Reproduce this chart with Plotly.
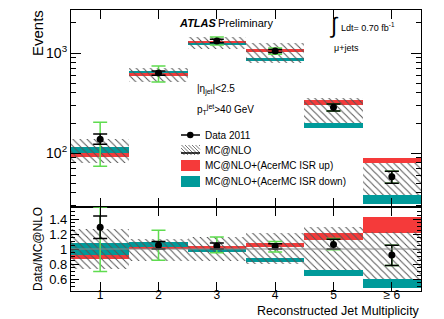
import plotly.graph_objects as go
from plotly.subplots import make_subplots

# ---------------- data ----------------
bins = [1, 2, 3, 4, 5, 6]
bin_labels = ["1", "2", "3", "4", "5", "\u2265 6"]

# top panel (Events)
data_val = [138, 631, 1318, 1047, 288, 58]
data_stat_lo = [123, 600, 1265, 1010, 263, 50]
data_stat_hi = [155, 662, 1370, 1085, 309, 66]
data_tot_lo = [74, 513, 1202, 975, 263, 50]
data_tot_hi = [204, 741, 1445, 1120, 309, 66]

mc_lo = [79, 513, 1096, 794, 200, 38]
mc_hi = [138, 708, 1445, 1259, 355, 79]
isr_up_lo = [91, 589, 1259, 1047, 302, 79]
isr_up_hi = [100, 631, 1318, 1096, 339, 89]
isr_dn_lo = [100, 631, 1202, 832, 178, 31]
isr_dn_hi = [115, 661, 1259, 891, 200, 38]

# ratio panel (Data/MC@NLO)
r_data = [1.29, 1.05, 1.04, 1.03, 1.06, 0.92]
r_stat_lo = [1.14, 1.00, 1.00, 1.00, 1.00, 0.78]
r_stat_hi = [1.44, 1.10, 1.08, 1.07, 1.13, 1.05]
r_tot_lo = [0.70, 0.85, 0.95, 0.96, 0.99, 0.78]
r_tot_hi = [1.56, 1.25, 1.16, 1.10, 1.14, 1.05]
r_mc_lo = [0.73, 0.84, 0.84, 0.80, 0.72, 0.60]
r_mc_hi = [1.27, 1.13, 1.16, 1.21, 1.30, 1.23]
r_up_lo = [0.87, 1.00, 1.00, 1.03, 1.12, 1.22]
r_up_hi = [0.92, 1.03, 1.04, 1.08, 1.21, 1.43]
r_dn_lo = [0.92, 1.03, 0.96, 0.83, 0.64, 0.48]
r_dn_hi = [1.08, 1.09, 1.00, 0.88, 0.72, 0.60]

RED = "#f53a3a"
TEAL = "#009a9a"
GREEN = "#5fdc4f"
HATCH = "#555555"
FONT = "Liberation Sans"

W, H = 444, 319
ML, MR, MT, MB = 71, 23, 10, 28
PW, PH = W - ML - MR, H - MT - MB


def PX(x):
    return (x - ML) / PW


def PY(y):
    return (H - MB - y) / PH


fig = make_subplots(rows=2, cols=1, shared_xaxes=True, vertical_spacing=0,
                    row_heights=[1 - 84 / PH, 84 / PH])


def band(lo, hi, row, color=None, hatch=False):
    heights = [h - l for l, h in zip(lo, hi)]
    if hatch:
        marker = dict(color="rgba(0,0,0,0)", line=dict(width=0),
                      pattern=dict(shape="\\", fgcolor=HATCH, size=5,
                                   solidity=0.2, fillmode="replace"))
    else:
        marker = dict(color=color, line=dict(width=0))
    fig.add_trace(go.Bar(x=bins, y=heights, base=lo, width=1.0, marker=marker,
                         showlegend=False, hoverinfo="skip"), row=row, col=1)


def points(val, slo, shi, tlo, thi, row):
    fig.add_trace(go.Scatter(
        x=bins, y=val, mode="markers", marker=dict(size=1, color="rgba(0,0,0,0)"),
        error_y=dict(type="data", symmetric=False,
                     array=[h - v for v, h in zip(val, thi)],
                     arrayminus=[v - l for v, l in zip(val, tlo)],
                     color=GREEN, thickness=1.5, width=7),
        showlegend=False, hoverinfo="skip"), row=row, col=1)
    fig.add_trace(go.Scatter(
        x=bins, y=val, mode="markers", marker=dict(size=7, color="black"),
        error_y=dict(type="data", symmetric=False,
                     array=[h - v for v, h in zip(val, shi)],
                     arrayminus=[v - l for v, l in zip(val, slo)],
                     color="black", thickness=1.5, width=7),
        showlegend=False, hoverinfo="skip"), row=row, col=1)


# top panel
band(isr_up_lo, isr_up_hi, 1, RED)
band(isr_dn_lo, isr_dn_hi, 1, TEAL)
band(mc_lo, mc_hi, 1, hatch=True)
points(data_val, data_stat_lo, data_stat_hi, data_tot_lo, data_tot_hi, 1)

# ratio panel
band(r_up_lo, r_up_hi, 2, RED)
band(r_dn_lo, r_dn_hi, 2, TEAL)
band(r_mc_lo, r_mc_hi, 2, hatch=True)
points(r_data, r_stat_lo, r_stat_hi, r_tot_lo, r_tot_hi, 2)

fig.update_layout(barmode="overlay", bargap=0)

axis_common = dict(showline=True, linecolor="black", linewidth=1.2, mirror="ticks",
                   ticks="inside", tickcolor="black", showgrid=False, zeroline=False)

fig.update_xaxes(**axis_common, range=[0.5, 6.5], tickvals=bins, ticktext=bin_labels,
                 ticklen=9, tickfont=dict(family=FONT, size=12, color="black"))
fig.update_xaxes(showticklabels=False, row=1, col=1)
fig.update_xaxes(ticklabelstandoff=-8, row=2, col=1)

fig.update_yaxes(**axis_common, type="log", range=[1.462, 3.43], row=1, col=1,
                 tickvals=[100, 1000], ticktext=["10<sup>2</sup>", "10<sup>3</sup>"],
                 ticklen=10, tickfont=dict(family=FONT, size=14, color="black"),
                 minor=dict(ticks="inside", ticklen=5, tickcolor="black",
                            tickvals=[30, 40, 50, 60, 70, 80, 90, 200, 300, 400, 500,
                                      600, 700, 800, 900, 2000]))
fig.update_yaxes(**axis_common, range=[0.44, 1.56], row=2, col=1,
                 tickvals=[0.6, 0.8, 1.0, 1.2, 1.4], ticktext=["0.6", "0.8", "1", "1.2", "1.4"],
                 ticklen=8, tickfont=dict(family=FONT, size=13, color="black"),
                 minor=dict(ticks="inside", ticklen=4, tickcolor="black", dtick=0.05))

shapes = []
# unity line in ratio
shapes.append(dict(type="line", xref="x2", yref="y2", x0=0.5, x1=6.5, y0=1, y1=1,
                   line=dict(color="#888888", width=1)))

# manual legend
def pline(x0, y0, x1, y1, color="black", width=1.5):
    shapes.append(dict(type="line", xref="paper", yref="paper",
                       x0=PX(x0), y0=PY(y0), x1=PX(x1), y1=PY(y1),
                       line=dict(color=color, width=width)))


def pbox(x0, y0, x1, y1, color):
    shapes.append(dict(type="rect", xref="paper", yref="paper",
                       x0=PX(x0), y0=PY(y0), x1=PX(x1), y1=PY(y1),
                       fillcolor=color, line=dict(width=0)))


LX0, LX1 = 181, 200
# Data 2011
pline(LX0, 135, LX1, 135)
shapes.append(dict(type="circle", xref="paper", yref="paper",
                   x0=PX(187), x1=PX(193.5), y0=PY(131.7), y1=PY(138.3),
                   fillcolor="black", line=dict(width=0)))
# MC@NLO hatched
hy0, hy1 = 145, 155
hh = hy1 - hy0
k = LX0 - hh
while k < LX1:
    xa, ya = k, hy0
    xb, yb = k + hh, hy1
    if xa < LX0:
        ya = hy0 + (LX0 - xa)
        xa = LX0
    if xb > LX1:
        yb = hy1 - (xb - LX1)
        xb = LX1
    if xb > xa:
        pline(xa, ya, xb, yb, color=HATCH, width=0.8)
    k += 3.5
pline(LX0, 153, LX1, 153)
pbox(LX0, 160, LX1, 171, RED)
pbox(LX0, 176, LX1, 187, TEAL)

fig.update_layout(shapes=shapes)

ann = []


def text(x, y, s, size=10, xanchor="left", yanchor="middle", angle=0):
    ann.append(dict(xref="paper", yref="paper", x=PX(x), y=PY(y), text=s,
                    showarrow=False, xanchor=xanchor, yanchor=yanchor, textangle=angle,
                    font=dict(family=FONT, size=size, color="black")))


text(203, 135, "Data 2011")
text(203, 150, "MC@NLO")
text(203, 165.5, "MC@NLO+(AcerMC ISR up)")
text(203, 181.5, "MC@NLO+(AcerMC ISR down)")

text(177, 23, "<b><i>ATLAS</i></b>", size=11)
text(216, 23, "Preliminary", size=11)
text(327, 25, "\u222b", size=22)
text(339, 27, "Ldt= 0.70 fb<sup>-1</sup>", size=9)
text(332, 48, "\u03bc+jets", size=9)
text(195, 89, "|\u03b7<sub>jet</sub>|<2.5", size=10)
text(195, 109, "p<sub>T</sub><sup>jet</sup>>40 GeV", size=10)

text(37, 8, "Events", size=15, xanchor="center", yanchor="top", angle=-90)
text(38, 249, "Data/MC@NLO", size=12, xanchor="center", angle=-90)
text(422, 319.5, "Reconstructed Jet Multiplicity", size=12.5, xanchor="right", yanchor="bottom")

fig.update_layout(annotations=ann, width=W, height=H,
                  margin=dict(l=ML, r=MR, t=MT, b=MB),
                  paper_bgcolor="white", plot_bgcolor="white",
                  font=dict(family=FONT, color="black"))

fig.write_html("out.html", config={"displayModeBar": False},
               post_script="document.body.style.margin='0';document.body.style.padding='0';")
